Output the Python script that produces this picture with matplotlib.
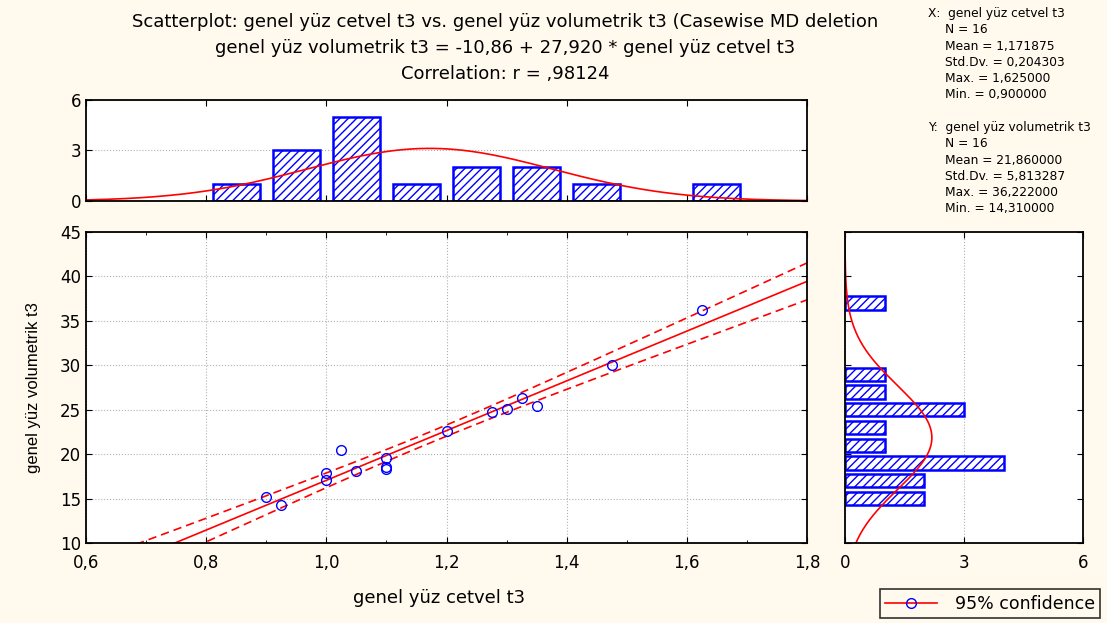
import numpy as np
import matplotlib
matplotlib.use("Agg")
import matplotlib.pyplot as plt
from matplotlib.lines import Line2D
from matplotlib.ticker import FuncFormatter, MultipleLocator

plt.rcParams['font.family'] = ['DejaVu Sans']
plt.rcParams['hatch.linewidth'] = 1.0

cetvel = [0.9, 0.925, 1.0, 1.0, 1.025, 1.05, 1.1, 1.1, 1.1, 1.2,
          1.275, 1.3, 1.325, 1.35, 1.475, 1.625]
volumetrik = [15.2, 14.31, 17.1, 17.9, 20.5, 18.05, 19.55, 18.5, 18.35, 22.6,
              24.7, 25.1, 26.3, 25.45, 30.0, 36.222]

x_bins = [0.8, 0.9, 1.0, 1.1, 1.2, 1.3, 1.4, 1.5, 1.6, 1.7]
y_bins = [14, 16, 18, 20, 22, 24, 26, 28, 30, 32, 34, 36, 38]

title_lines = [
    "Scatterplot: genel yüz cetvel t3 vs. genel yüz volumetrik t3 (Casewise MD deletion",
    "genel yüz volumetrik t3 = -10,86 + 27,920 * genel yüz cetvel t3",
    "Correlation: r = ,98124",
]
stats_x = ["X:  genel yüz cetvel t3", "N = 16", "Mean = 1,171875",
           "Std.Dv. = 0,204303", "Max. = 1,625000", "Min. = 0,900000"]
stats_y = ["Y:  genel yüz volumetrik t3", "N = 16", "Mean = 21,860000",
           "Std.Dv. = 5,813287", "Max. = 36,222000", "Min. = 14,310000"]

bg = "#fff9ee"
blue = "#0000ff"
red = "#ff0000"

x = np.array(cetvel)
y = np.array(volumetrik)
n = len(x)

fig = plt.figure(figsize=(11.07, 6.23), dpi=100, facecolor=bg)
ax = fig.add_axes([0.0777, 0.1284, 0.6513, 0.4992])
axt = fig.add_axes([0.0777, 0.6774, 0.6513, 0.1621])
axr = fig.add_axes([0.7633, 0.1284, 0.215, 0.4992])

comma = FuncFormatter(lambda v, p: f"{v:.1f}".replace(".", ","))

for a in (ax, axt, axr):
    a.set_facecolor("white")
    for s in a.spines.values():
        s.set_linewidth(1.3)
    a.tick_params(direction="in", top=True, right=True, labelsize=12, length=4)
    a.grid(True, color="#b0b0b0", linestyle=":", linewidth=0.8)
    a.set_axisbelow(True)

# regression + 95% confidence band of the mean
b1, b0 = np.polyfit(x, y, 1)
xx = np.linspace(0.6, 1.8, 200)
yy = b0 + b1 * xx
resid = y - (b0 + b1 * x)
s = np.sqrt(np.sum(resid ** 2) / (n - 2))
sxx = np.sum((x - x.mean()) ** 2)
t = 2.1448
half = t * s * np.sqrt(1 / n + (xx - x.mean()) ** 2 / sxx)

ax.plot(xx, yy, color=red, lw=1.2)
ax.plot(xx, yy + half, color=red, lw=1.2, ls=(0, (5, 3)))
ax.plot(xx, yy - half, color=red, lw=1.2, ls=(0, (5, 3)))
ax.plot(x, y, "o", mfc="none", mec=blue, ms=7, mew=1.0)
ax.set_xlim(0.6, 1.8)
ax.set_ylim(10, 45)
ax.xaxis.set_major_locator(MultipleLocator(0.2))
ax.xaxis.set_minor_locator(MultipleLocator(0.1))
ax.yaxis.set_major_locator(MultipleLocator(5))
ax.xaxis.set_major_formatter(comma)
ax.tick_params(which="minor", direction="in", top=True, length=2)
ax.tick_params(axis="x", pad=8)
ax.set_xlabel("genel yüz cetvel t3", fontsize=13, labelpad=12, x=0.49)
ax.set_ylabel("genel yüz volumetrik t3", fontsize=12, labelpad=14,
              family="Liberation Sans")

# top histogram
xc = np.bincount(np.digitize(x, x_bins, right=True), minlength=len(x_bins) + 1)[1:len(x_bins)]
xw = x_bins[1] - x_bins[0]
xmid = np.array(x_bins[:-1]) + xw / 2
keep = xc > 0
axt.bar(xmid[keep], xc[keep], width=xw * 0.78, color="white", edgecolor=blue,
        hatch="////", lw=1.8)
gx = n * xw * np.exp(-0.5 * ((xx - x.mean()) / x.std(ddof=1)) ** 2) / (x.std(ddof=1) * np.sqrt(2 * np.pi))
axt.plot(xx, gx, color=red, lw=1.2)
axt.set_xlim(0.6, 1.8)
axt.set_ylim(0, 6)
axt.set_yticks([0, 3, 6])
axt.xaxis.set_major_locator(MultipleLocator(0.2))
axt.tick_params(axis="x", labelbottom=False)
axt.grid(False, axis="x")

# right histogram
yc = np.bincount(np.digitize(y, y_bins, right=True), minlength=len(y_bins) + 1)[1:len(y_bins)]
yw = y_bins[1] - y_bins[0]
ymid = np.array(y_bins[:-1]) + yw / 2
keep = yc > 0
axr.barh(ymid[keep], yc[keep], height=yw * 0.75, color="white", edgecolor=blue,
         hatch="////", lw=1.8)
yy2 = np.linspace(10, 45, 200)
gy = n * yw * np.exp(-0.5 * ((yy2 - y.mean()) / y.std(ddof=1)) ** 2) / (y.std(ddof=1) * np.sqrt(2 * np.pi))
axr.plot(gy, yy2, color=red, lw=1.2)
axr.set_xlim(0, 6)
axr.set_ylim(10, 45)
axr.set_xticks([0, 3, 6])
axr.yaxis.set_major_locator(MultipleLocator(5))
axr.tick_params(axis="y", labelleft=False)
axr.tick_params(axis="x", pad=8)
axr.grid(False, axis="y")

# titles and stats
for i, line in enumerate(title_lines):
    fig.text(0.456, 0.964 - i * 0.041, line, ha="center", va="center", fontsize=13)
for i, line in enumerate(stats_x):
    fig.text(0.838 if i == 0 else 0.854, 0.978 - i * 0.026, line, fontsize=8.8, va="center")
for i, line in enumerate(stats_y):
    fig.text(0.838 if i == 0 else 0.854, 0.795 - i * 0.026, line, fontsize=8.8, va="center")

handle = Line2D([], [], color=red, lw=1.2, marker="o", mfc="none", mec=blue, ms=7)
fig.legend([handle], ["95% confidence"], loc="lower right", bbox_to_anchor=(0.9985, 0.0),
           fontsize=12.5, frameon=True, fancybox=False, edgecolor="black",
           facecolor=bg, handlelength=3.0, handletextpad=1.0, borderpad=0.3,
           borderaxespad=0.3).get_frame().set_linewidth(1.2)

fig.savefig("out.png", dpi=100, facecolor=bg)
